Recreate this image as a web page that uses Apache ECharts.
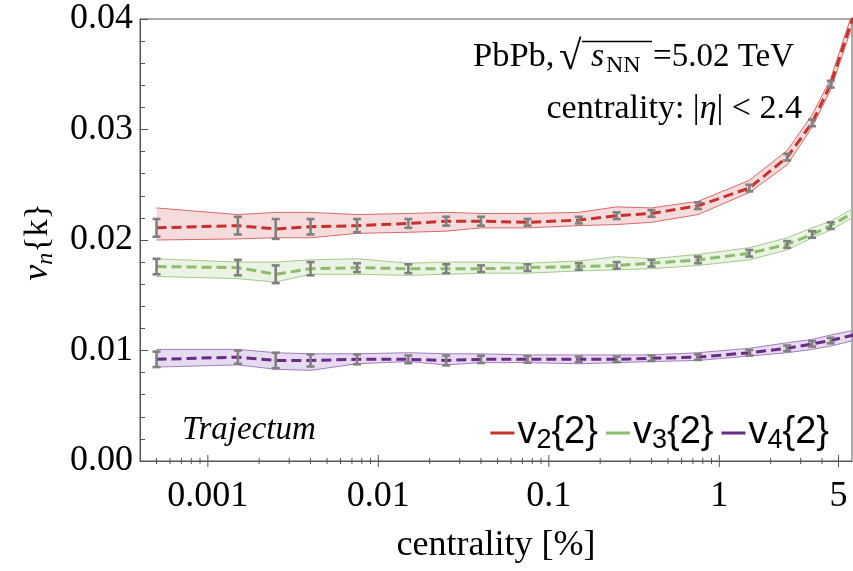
<!DOCTYPE html>
<html>
<head>
<meta charset="utf-8">
<script src="https://cdn.jsdelivr.net/npm/echarts@6/dist/echarts.min.js"></script>
<style>
  html, body { margin: 0; padding: 0; background: #fff; }
  #chart { width: 853px; height: 571px; }
</style>
</head>
<body>
<div id="chart"></div>
<script>
// Centrality bin centres [%]
const centrality = [0.0005, 0.0015, 0.0025, 0.004, 0.0075, 0.015, 0.025, 0.04, 0.075, 0.15, 0.25, 0.4, 0.75, 1.5, 2.5, 3.5, 4.5, 6.5];

// v2{2}
const v2 = [0.0211, 0.0213, 0.0210, 0.0212, 0.0213, 0.0215, 0.0217, 0.0217, 0.0216, 0.0218, 0.0222, 0.0224, 0.0231, 0.0247, 0.0275, 0.0306, 0.0341, 0.0415];
const v2Err = [0.0008, 0.0008, 0.0009, 0.0007, 0.0006, 0.0004, 0.0004, 0.0004, 0.0003, 0.0003, 0.0003, 0.0003, 0.0003, 0.0003, 0.0003, 0.0003, 0.0003, 0.0003];
const v2Upper = [0.0229, 0.0223, 0.0225, 0.0225, 0.0223, 0.0224, 0.0225, 0.0224, 0.0224, 0.0225, 0.0230, 0.0229, 0.0235, 0.0254, 0.0281, 0.0313, 0.0346, 0.0421];
const v2Lower = [0.0200, 0.0201, 0.0202, 0.0202, 0.0206, 0.0207, 0.0208, 0.0211, 0.0211, 0.0213, 0.0214, 0.0216, 0.0223, 0.0243, 0.0268, 0.0302, 0.0336, 0.0409];

// v3{2}
const v3 = [0.0176, 0.0175, 0.0169, 0.0174, 0.0175, 0.0174, 0.0174, 0.0174, 0.0175, 0.0176, 0.0177, 0.0179, 0.0182, 0.0188, 0.0196, 0.0205, 0.0213, 0.0227];
const v3Err = [0.0007, 0.0007, 0.0008, 0.0006, 0.0004, 0.0004, 0.0004, 0.0003, 0.0003, 0.0003, 0.0003, 0.0003, 0.0003, 0.0003, 0.0003, 0.0003, 0.0003, 0.0003];
const v3Upper = [0.0183, 0.0180, 0.0180, 0.0182, 0.0183, 0.0179, 0.0180, 0.0180, 0.0179, 0.0181, 0.0185, 0.0183, 0.0187, 0.0193, 0.0202, 0.0211, 0.0217, 0.0231];
const v3Lower = [0.0167, 0.0165, 0.0162, 0.0169, 0.0169, 0.0168, 0.0169, 0.0170, 0.0170, 0.0172, 0.0173, 0.0174, 0.0177, 0.0182, 0.0191, 0.0202, 0.0209, 0.0223];

// v4{2}
const v4 = [0.0092, 0.0094, 0.0091, 0.0091, 0.0092, 0.0092, 0.0091, 0.0092, 0.0092, 0.0092, 0.0092, 0.0093, 0.0094, 0.0098, 0.0102, 0.0106, 0.0109, 0.0115];
const v4Err = [0.0007, 0.0006, 0.0007, 0.00055, 0.00045, 0.00035, 0.00045, 0.00033, 0.0003, 0.00025, 0.00025, 0.00025, 0.00025, 0.00025, 0.00025, 0.00025, 0.00025, 0.00025];
const v4Upper = [0.0101, 0.0101, 0.0098, 0.0097, 0.0097, 0.0098, 0.0097, 0.0097, 0.0096, 0.0096, 0.0096, 0.0096, 0.0098, 0.0102, 0.0107, 0.0110, 0.0114, 0.0119];
const v4Lower = [0.0085, 0.0087, 0.0083, 0.0082, 0.0088, 0.0090, 0.0087, 0.0089, 0.0089, 0.0088, 0.0089, 0.0090, 0.0091, 0.0095, 0.0098, 0.0101, 0.0104, 0.0110];

// x-axis ticks (log scale)
const xMajorTicks = [0.001, 0.01, 0.1, 1, 5];
const xMajorLabels = ['0.001', '0.01', '0.1', '1', '5'];
const xMinorTicks = [0.0005, 0.0006, 0.0007, 0.0008, 0.0009,
  0.002, 0.003, 0.004, 0.005, 0.006, 0.007, 0.008, 0.009,
  0.02, 0.03, 0.04, 0.05, 0.06, 0.07, 0.08, 0.09,
  0.2, 0.3, 0.4, 0.5, 0.6, 0.7, 0.8, 0.9,
  2, 3, 4];

const SERIF = "'Liberation Serif', 'Times New Roman', serif";
const SANS = "'Liberation Sans', Arial, sans-serif";
const AXIS_COLOR = '#555';

const chart = echarts.init(document.getElementById('chart'), null, { renderer: 'canvas' });

function bandRenderer(lower, upper, fill, edge) {
  return function (params, api) {
    if (params.dataIndex !== 0) return null;
    const top = centrality.map((x, i) => api.coord([x, upper[i]]));
    const bot = centrality.map((x, i) => api.coord([x, lower[i]]));
    return {
      type: 'group',
      children: [
        { type: 'polygon', shape: { points: top.concat(bot.slice().reverse()) }, style: { fill: fill } },
        { type: 'polyline', shape: { points: top }, style: { fill: 'none', stroke: edge, lineWidth: 1 } },
        { type: 'polyline', shape: { points: bot }, style: { fill: 'none', stroke: edge, lineWidth: 1 } }
      ]
    };
  };
}

function errorRenderer(params, api) {
  const x = api.value(0);
  const p1 = api.coord([x, api.value(1)]);
  const p2 = api.coord([x, api.value(2)]);
  const w = 4;
  const st = { stroke: '#808080', lineWidth: 2.6 };
  return {
    type: 'group',
    children: [
      { type: 'line', shape: { x1: p1[0], y1: p1[1], x2: p2[0], y2: p2[1] }, style: st },
      { type: 'line', shape: { x1: p1[0] - w, y1: p1[1], x2: p1[0] + w, y2: p1[1] }, style: st },
      { type: 'line', shape: { x1: p2[0] - w, y1: p2[1], x2: p2[0] + w, y2: p2[1] }, style: st }
    ]
  };
}

function harmonic(name, vals, err, lower, upper, lineColor, fill, edge) {
  return [
    {
      name: name + ' band', type: 'custom', coordinateSystem: 'cartesian2d', clip: true, z: 1,
      data: centrality.map((x, i) => [x, lower[i], upper[i]]),
      encode: { x: 0, y: [1, 2] },
      renderItem: bandRenderer(lower, upper, fill, edge), silent: true
    },
    {
      name: name, type: 'line', z: 2, color: lineColor,
      data: centrality.map((x, i) => [x, vals[i]]),
      symbol: 'none', showSymbol: false, clip: true,
      lineStyle: { width: 3, type: [10, 5], color: lineColor }
    },
    {
      name: name + ' err', type: 'custom', coordinateSystem: 'cartesian2d', clip: true, z: 3,
      data: centrality.map((x, i) => [x, vals[i] - err[i], vals[i] + err[i]]),
      encode: { x: 0, y: [1, 2] },
      renderItem: errorRenderer, silent: true
    }
  ];
}

// Log-axis ticks and labels drawn through the axis scale
const tickData = xMajorTicks.map((v, i) => [v, 0, 1, i]).concat(xMinorTicks.map(v => [v, 0, 0, -1]));
const tickSeries = {
  name: 'x ticks', type: 'custom', coordinateSystem: 'cartesian2d', clip: false, z: 5, silent: true,
  data: tickData,
  encode: { x: 0, y: 1 },
  renderItem: function (params, api) {
    const p = api.coord([api.value(0), 0]);
    const major = api.value(2) === 1;
    const h = major ? 6 : 3;
    const children = [
      { type: 'line', shape: { x1: p[0], y1: p[1] - h, x2: p[0], y2: p[1] + h }, style: { stroke: AXIS_COLOR, lineWidth: 1 } }
    ];
    if (major) {
      children.push({
        type: 'text', x: p[0], y: p[1] + 36,
        style: { text: xMajorLabels[api.value(3)], font: '36px ' + SERIF, fill: '#000', align: 'center', verticalAlign: 'middle' }
      });
    }
    return { type: 'group', children: children };
  }
};

const option = {
  animation: false,
  backgroundColor: '#fff',
  grid: {
    left: 140, right: 1, top: 19, bottom: 110, show: true, borderColor: AXIS_COLOR, borderWidth: 1,
    containLabel: false, outerBoundsMode: 'none'
  },
  xAxis: {
    type: 'log', logBase: 10, min: 0.0004, max: 6,
    axisLine: { show: true, lineStyle: { color: AXIS_COLOR, width: 1 } },
    axisTick: { show: false }, axisLabel: { show: false }, splitLine: { show: false },
    name: 'centrality [%]', nameLocation: 'middle', nameGap: 67,
    nameTextStyle: { fontFamily: SERIF, fontSize: 36, color: '#000' }
  },
  yAxis: {
    type: 'value', min: 0, max: 0.04, interval: 0.01,
    axisLine: { show: true, lineStyle: { color: AXIS_COLOR, width: 1 } },
    axisTick: { show: true, inside: true, length: 8, lineStyle: { color: AXIS_COLOR } },
    minorTick: { show: true, splitNumber: 5, length: 5, lineStyle: { color: AXIS_COLOR } },
    splitLine: { show: false },
    axisLabel: { formatter: v => v.toFixed(2), fontFamily: SERIF, fontSize: 36, color: '#000', margin: 7 }
  },
  legend: {
    data: ['v2', 'v3', 'v4'],
    right: 19, top: 407, icon: 'rect', itemWidth: 24, itemHeight: 3, itemGap: 8,
    selectedMode: false,
    formatter: n => 'v{sub|' + n.slice(1) + '}{2}',
    textStyle: {
      fontFamily: SANS, fontSize: 38, color: '#000', lineHeight: 42, padding: [0, 0, 0, -2],
      rich: { sub: { fontSize: 27, fontFamily: SANS, lineHeight: 26, verticalAlign: 'bottom', color: '#000' } }
    }
  },
  graphic: [
    {
      type: 'text', x: 38, y: 242, rotation: Math.PI / 2,
      style: {
        text: '{i|v}{s|n}{k}', font: '34px ' + SERIF, fill: '#000', align: 'center', verticalAlign: 'middle',
        lineHeight: 40,
        rich: {
          i: { fontFamily: SERIF, fontSize: 36, fontStyle: 'italic', lineHeight: 40 },
          s: { fontFamily: SERIF, fontSize: 24, fontStyle: 'italic', lineHeight: 24, verticalAlign: 'bottom' }
        }
      }
    },
    { type: 'text', x: 473, y: 57, style: { text: 'PbPb,', font: '34.5px ' + SERIF, fill: '#000', align: 'left', verticalAlign: 'middle' } },
    { type: 'text', x: 559, y: 58, style: { text: '√', font: '41px ' + SERIF, fill: '#000', align: 'left', verticalAlign: 'middle' } },
    { type: 'text', x: 591, y: 57, style: { text: 's', font: 'italic 34px ' + SERIF, fill: '#000', align: 'left', verticalAlign: 'middle' } },
    { type: 'text', x: 606, y: 66, style: { text: 'NN', font: '24px ' + SERIF, fill: '#000', align: 'left', verticalAlign: 'middle' } },
    { type: 'line', shape: { x1: 582, y1: 41.5, x2: 652, y2: 41.5 }, style: { stroke: '#000', lineWidth: 1.3 } },
    { type: 'text', x: 794, y: 57, style: { text: '=5.02 TeV', font: '33px ' + SERIF, fill: '#000', align: 'right', verticalAlign: 'middle' } },
    {
      type: 'text', x: 802, y: 109,
      style: {
        text: 'centrality: |{i|η}| < 2.4', font: '34px ' + SERIF, fill: '#000', align: 'right', verticalAlign: 'middle',
        rich: { i: { fontFamily: SERIF, fontSize: 34, fontStyle: 'italic' } }
      }
    },
    { type: 'text', x: 182, y: 430, style: { text: 'Trajectum', font: 'italic 33px ' + SERIF, fill: '#000', align: 'left', verticalAlign: 'middle' } }
  ],
  series: [].concat(
    harmonic('v4', v4, v4Err, v4Lower, v4Upper, '#6a2a87', 'rgba(160, 110, 190, 0.25)', '#a57cc0'),
    harmonic('v3', v3, v3Err, v3Lower, v3Upper, '#8cbd68', 'rgba(150, 195, 120, 0.2)', '#a3cc8a'),
    harmonic('v2', v2, v2Err, v2Lower, v2Upper, '#c8302b', 'rgba(210, 90, 90, 0.22)', '#d86a6a'),
    [tickSeries]
  )
};

chart.setOption(option);
</script>
</body>
</html>
